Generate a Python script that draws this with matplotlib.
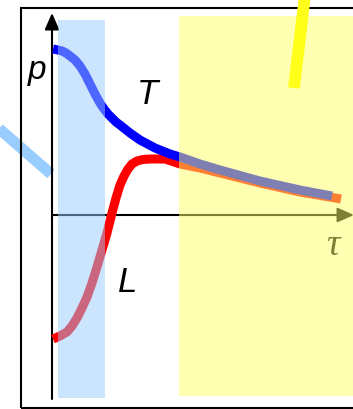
import matplotlib
matplotlib.use("Agg")
import matplotlib.pyplot as plt
import matplotlib.patches as patches

# curve T (upper branch), in (tau, p) units
T_tau = [0.01, 0.06, 0.10, 0.14, 0.18, 0.23, 0.28, 0.33, 0.38, 0.43, 0.48,
         0.52, 0.56, 0.60, 0.64, 0.68, 0.73, 0.78, 0.88, 1.03, 1.18, 1.28,
         1.48, 1.68, 2.08, 2.48, 2.80]
T_p = [1.66, 1.65, 1.64, 1.62, 1.59, 1.55, 1.49, 1.41, 1.31, 1.21, 1.12,
       1.06, 1.01, 0.97, 0.93, 0.90, 0.86, 0.82, 0.75, 0.67, 0.61, 0.58,
       0.51, 0.45, 0.34, 0.25, 0.19]

# curve L (lower branch)
L_tau = [0.01, 0.08, 0.15, 0.20, 0.25, 0.30, 0.35, 0.40, 0.45, 0.50, 0.55,
         0.60, 0.64, 0.68, 0.72, 0.76, 0.80, 0.85, 0.91, 0.98, 1.13, 1.28,
         1.48, 1.68, 2.08, 2.48, 2.89]
L_p = [-1.24, -1.21, -1.17, -1.11, -1.03, -0.93, -0.82, -0.68, -0.52, -0.35,
       -0.18, 0.02, 0.17, 0.30, 0.39, 0.46, 0.51, 0.54, 0.555, 0.56, 0.56,
       0.51, 0.47, 0.42, 0.32, 0.23, 0.16]

# shaded regions (tau ranges)
early_band = (0.06, 0.53)
late_band = (1.27, 3.10)

fig = plt.figure(figsize=(3.53, 4.09), dpi=100)
ax = fig.add_axes([0, 0, 1, 1])
ax.set_xlim(-0.52, 3.01)
ax.set_ylim(-1.94, 2.15)
ax.axis("off")

lw = 6.5

# outer frame
ax.add_patch(patches.Rectangle((-0.31, -1.93), 3.6, 4.0, fill=False,
                               edgecolor="black", lw=1.5, zorder=3))

# stray strokes
ax.plot([-0.56, -0.01], [0.89, 0.41], color="#99ccff", lw=8,
        solid_capstyle="butt", zorder=2)

# axes with arrowheads
arrow = dict(arrowstyle="-|>,head_length=0.5,head_width=0.22", lw=1.5,
             color="black", shrinkA=0, shrinkB=0, mutation_scale=20)
ax.annotate("", xy=(0, 2.02), xytext=(0, -1.84), arrowprops=arrow,
            annotation_clip=False, zorder=4)
ax.annotate("", xy=(3.02, 0), xytext=(0, 0), arrowprops=arrow,
            annotation_clip=False, zorder=4)

# the two branches
ax.plot(L_tau, L_p, color="#ff0000", lw=lw, solid_capstyle="butt",
        solid_joinstyle="round", zorder=5)
ax.plot(T_tau, T_p, color="#0000ff", lw=lw, solid_capstyle="butt",
        solid_joinstyle="round", zorder=6)

# labels
ax.text(-0.15, 1.45, "p", fontsize=24, style="italic", family="Liberation Sans",
        ha="center", va="center", zorder=7)
ax.text(0.95, 1.20, "T", fontsize=25, style="italic", family="Liberation Sans",
        ha="center", va="center", zorder=7)
ax.text(0.76, -0.67, "L", fontsize=25, style="italic", family="Liberation Sans",
        ha="center", va="center", zorder=7)
ax.text(2.81, -0.31, "τ", fontsize=27, style="italic", family="Liberation Serif",
        ha="center", va="center", zorder=7)

# translucent bands over everything
ax.add_patch(patches.Rectangle((early_band[0], -1.83), early_band[1] - early_band[0],
                               3.78, facecolor="#99ccff", alpha=0.5,
                               edgecolor="none", zorder=8))
ax.add_patch(patches.Rectangle((late_band[0], -1.81), late_band[1] - late_band[0],
                               3.80, facecolor="#ffff66", alpha=0.5,
                               edgecolor="none", zorder=8))

ax.plot([2.53, 2.42], [2.20, 1.27], color="#ffff1a", lw=8.5,
        solid_capstyle="butt", zorder=9)

fig.savefig("out.png", dpi=100)
